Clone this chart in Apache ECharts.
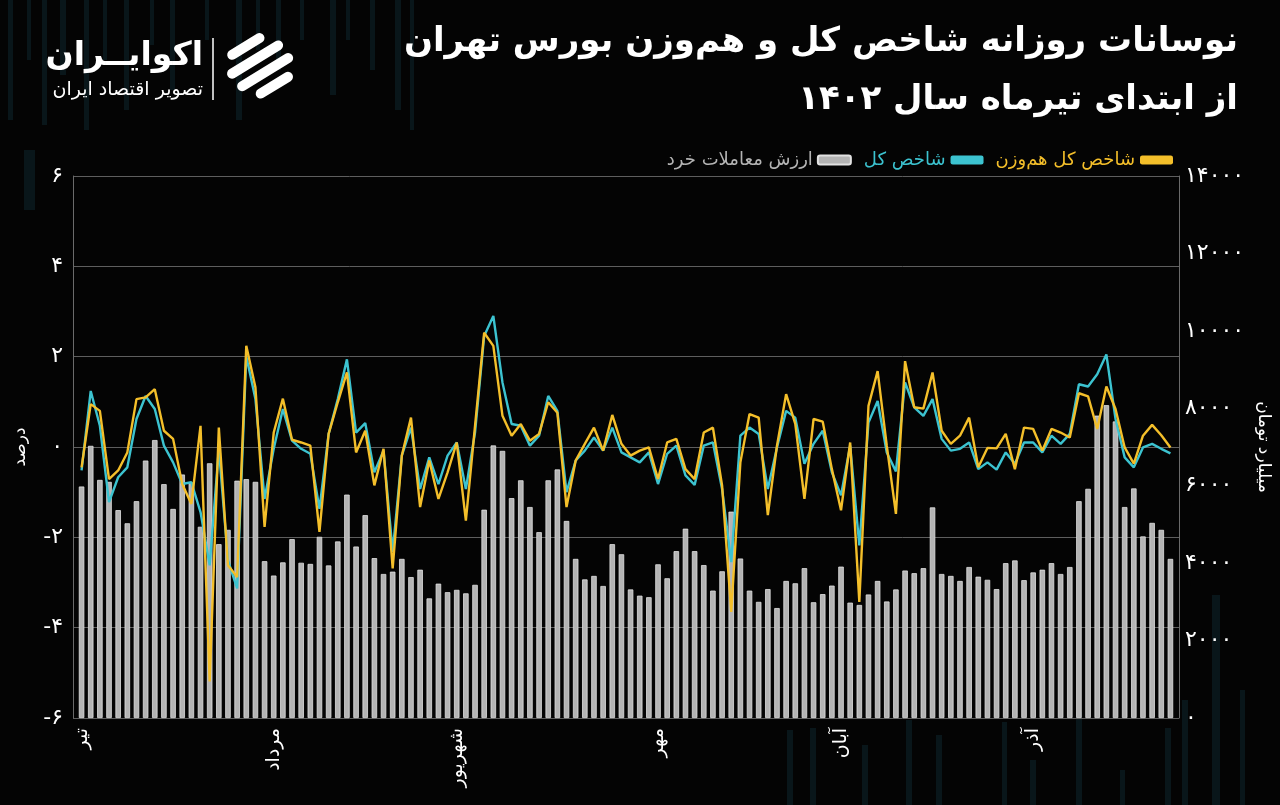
<!DOCTYPE html>
<html><head><meta charset="utf-8">
<script src="https://cdn.jsdelivr.net/npm/echarts@6/dist/echarts.min.js"></script>
<style>html,body{margin:0;padding:0;background:#040404;}#c{width:1280px;height:805px;}</style>
</head><body><div id="c"></div>
<script>
const months = ['تیر','مرداد','شهریور','مهر','آبان','آذر'];
const monthStart = [0,21,41,63,83,104];
const dayCount = 120;

const retailValue = [
5980,7030,6150,6100,5370,5030,5600,6650,7180,6040,
5400,6290,6080,4940,6580,4490,4860,6130,6170,6100,
4050,3680,4020,4620,4010,3980,4680,3940,4560,5770,
4430,5240,4130,3720,3780,4110,3640,3830,3090,3470,
3250,3310,3220,3440,5380,7040,6900,5680,6140,5450,
4800,6140,6420,5090,4110,3580,3670,3410,4490,4230,
3320,3160,3120,3970,3610,4310,4890,4310,3950,3290,
3790,5330,4120,3290,3000,3330,2840,3540,3480,3870,
2990,3200,3420,3910,2980,2920,3190,3540,3010,3320,
3810,3740,3870,5440,3720,3670,3540,3900,3650,3570,
3330,4000,4070,3560,3760,3830,4000,3720,3900,5600,
5920,7810,8080,7660,5450,5930,4690,5040,4860,4110
];

const totalIndex = [
-0.52,1.24,0.47,-1.22,-0.67,-0.45,0.62,1.13,0.84,0.03,
-0.34,-0.82,-0.78,-1.44,-2.62,-0.04,-2.51,-3.13,2.01,1.06,
-1.15,-0.04,0.84,0.14,-0.04,-0.15,-1.37,0.29,1.06,1.94,
0.32,0.53,-0.56,-0.08,-2.32,-0.19,0.43,-0.93,-0.23,-0.82,
-0.19,0.10,-0.93,0.32,2.46,2.90,1.43,0.51,0.47,0.03,
0.25,1.13,0.80,-1.00,-0.30,-0.08,0.21,-0.08,0.43,-0.12,
-0.23,-0.34,-0.12,-0.82,-0.15,0.03,-0.63,-0.84,0.03,0.10,
-0.93,-2.55,0.25,0.43,0.29,-0.93,-0.01,0.80,0.65,-0.37,
0.07,0.36,-0.56,-1.07,0.03,-2.18,0.54,1.02,-0.12,-0.54,
1.43,0.88,0.69,1.06,0.18,-0.08,-0.04,0.10,-0.49,-0.34,
-0.50,-0.12,-0.37,0.10,0.10,-0.12,0.25,0.07,0.29,1.39,
1.34,1.61,2.05,0.62,-0.23,-0.45,-0.01,0.07,-0.04,-0.14
];

const equalWeightIndex = [
-0.45,0.95,0.80,-0.71,-0.52,-0.12,1.06,1.10,1.28,0.36,
0.18,-0.82,-1.26,0.47,-5.19,0.43,-2.62,-2.88,2.24,1.32,
-1.77,0.32,1.07,0.16,0.10,0.03,-1.88,0.29,0.99,1.65,
-0.12,0.36,-0.85,-0.04,-2.69,-0.19,0.65,-1.33,-0.30,-1.15,
-0.56,0.10,-1.63,0.47,2.53,2.24,0.69,0.25,0.51,0.14,
0.29,0.99,0.76,-1.33,-0.30,0.07,0.43,-0.08,0.71,0.07,
-0.19,-0.08,-0.01,-0.71,0.10,0.18,-0.49,-0.71,0.32,0.43,
-0.85,-3.65,-0.34,0.73,0.65,-1.51,0.03,1.17,0.51,-1.15,
0.62,0.56,-0.49,-1.40,0.10,-3.43,0.91,1.68,0.03,-1.48,
1.90,0.88,0.85,1.65,0.36,0.07,0.25,0.65,-0.45,-0.02,
-0.03,0.29,-0.49,0.43,0.40,-0.08,0.40,0.32,0.21,1.19,
1.12,0.40,1.34,0.84,-0.01,-0.37,0.25,0.49,0.26,-0.01
];

const seriesNames = ['ارزش معاملات خرد','شاخص کل','شاخص کل هم\u200cوزن'];
const titleLines = ['نوسانات روزانه شاخص کل و هم\u200cوزن بورس تهران','از ابتدای تیرماه سال ۱۴۰۲'];
const leftAxisName = 'درصد';
const rightAxisName = 'میلیارد تومان';

// build day categories from month starts
const categories = [];
for (let i = 0; i < dayCount; i++) {
  let m = 0;
  for (let k = 0; k < monthStart.length; k++) if (i >= monthStart[k]) m = k;
  categories.push(months[m] + ' ' + (i - monthStart[m] + 1));
}
const fa = v => String(v).replace(/\d/g, d => '۰۱۲۳۴۵۶۷۸۹'[d]);

const FONT = 'DejaVu Sans';
const YELLOW = '#f4bf2a', CYAN = '#3cc3d0', GRAY = '#b4b4b4';

// decorative faint background stripes
const deco = [];
const topStripes = [[8,5,120],[27,4,60],[42,5,125],[60,6,75],[84,5,130],[103,4,60],[124,5,110],[150,4,45],[170,5,90],[205,4,40],[236,6,120],[256,4,50],[276,5,70],[300,4,40],[330,6,95],[346,4,40],[370,5,70],[395,6,110],[410,4,130]];
topStripes.forEach(s => deco.push({type:'rect', silent:true, z:-10, shape:{x:s[0], y:0, width:s[1], height:s[2]}, style:{fill:'rgba(18,52,64,0.38)'}}));
deco.push({type:'rect', silent:true, z:-10, shape:{x:24, y:150, width:11, height:60}, style:{fill:'rgba(18,52,64,0.38)'}});
const botStripes = [[787,6,730],[810,6,728],[862,6,745],[906,6,720],[936,6,735],[1002,5,722],[1030,6,760],[1076,6,712],[1120,5,770],[1165,6,728],[1182,6,700],[1212,8,595],[1240,5,690]];
botStripes.forEach(s => deco.push({type:'rect', silent:true, z:-10, shape:{x:s[0], y:s[2], width:s[1], height:805-s[2]}, style:{fill:'rgba(18,52,64,0.38)'}}));

const logo = [
  {type:'text', x:203, y:56, style:{text:'اکوایــران', fill:'#fff', font:'bold 33px "'+FONT+'"', textAlign:'right', textVerticalAlign:'middle'}},
  {type:'text', x:203, y:90, style:{text:'تصویر اقتصاد ایران', fill:'#fff', font:'19px "'+FONT+'"', textAlign:'right', textVerticalAlign:'middle'}},
  {type:'line', shape:{x1:213, y1:38, x2:213, y2:100}, style:{stroke:'#fff', lineWidth:1.5}},
  {type:'group', x:262, y:67, rotation:0.55, children:[
    {type:'rect', shape:{x:-24, y:-31, width:42, height:10, r:5}, style:{fill:'#fff'}},
    {type:'rect', shape:{x:-34, y:-15, width:64, height:10, r:5}, style:{fill:'#fff'}},
    {type:'rect', shape:{x:-32, y:1, width:64, height:10, r:5}, style:{fill:'#fff'}},
    {type:'rect', shape:{x:-20, y:17, width:42, height:10, r:5}, style:{fill:'#fff'}}
  ]}
];

const titleGfx = titleLines.map((t, i) => ({type:'text', x:1238, y:42 + i*58, style:{text:t, fill:'#fff', font:'bold 34px "'+FONT+'"', textAlign:'right', textVerticalAlign:'middle'}}));

const chart = echarts.init(document.getElementById('c'), null, {renderer:'canvas'});
chart.setOption({
  backgroundColor:'#040404',
  animation:false,
  textStyle:{fontFamily:FONT},
  graphic: deco.concat(logo, titleGfx),
  legend:{
    right:102, top:146, itemWidth:33, itemHeight:9, itemGap:12, align:'right', icon:'roundRect',
    data:[
      {name:seriesNames[0], textStyle:{color:GRAY}},
      {name:seriesNames[1], textStyle:{color:CYAN}},
      {name:seriesNames[2], textStyle:{color:YELLOW}}
    ],
    textStyle:{fontSize:18, fontFamily:FONT}
  },
  grid:[
    {left:73, right:98, top:176, bottom:87},
    {left:77, right:105, top:176, bottom:87}
  ],
  xAxis:[
    {gridIndex:0, type:'value', show:false, min:0, max:1},
    {gridIndex:1, type:'category', data:categories, boundaryGap:true,
     axisLine:{show:false}, axisTick:{show:false},
     axisLabel:{color:'#fff', fontSize:19, fontFamily:FONT, rotate:90, margin:10,
       interval:(idx) => monthStart.indexOf(idx) >= 0,
       formatter:(val, idx) => { const k = monthStart.indexOf(idx); return k >= 0 ? months[k] : ''; }}}
  ],
  yAxis:[
    {gridIndex:0, type:'value', min:-6, max:6, interval:2, position:'left',
     name:leftAxisName, nameLocation:'middle', nameGap:44, nameRotate:90,
     nameTextStyle:{color:'#fff', fontSize:17, fontFamily:FONT},
     axisLine:{show:true, lineStyle:{color:'#6a6a6a', width:1}}, axisTick:{show:false},
     axisLabel:{color:'#fff', fontSize:22, fontFamily:FONT, margin:10, formatter:v => fa(v)},
     splitLine:{show:true, lineStyle:{color:'#5e5e5e', width:1}}},
    {gridIndex:0, type:'value', min:0, max:14000, interval:2000, position:'right',
     name:rightAxisName, nameLocation:'middle', nameGap:72, nameRotate:-90,
     nameTextStyle:{color:'#fff', fontSize:17, fontFamily:FONT},
     axisLine:{show:true, lineStyle:{color:'#6a6a6a', width:1}}, axisTick:{show:false},
     axisLabel:{color:'#fff', fontSize:22, fontFamily:FONT, margin:6, formatter:v => fa(v)},
     splitLine:{show:false}},
    {gridIndex:1, type:'value', min:-6, max:6, show:false, splitLine:{show:false}},
    {gridIndex:1, type:'value', min:0, max:14000, show:false, splitLine:{show:false}}
  ],
  series:[
    {name:seriesNames[0], type:'bar', xAxisIndex:1, yAxisIndex:3, data:retailValue, barWidth:5.5,
     itemStyle:{color:GRAY, borderColor:'#e2e2e2', borderWidth:0.8}},
    {name:seriesNames[1], type:'line', xAxisIndex:1, yAxisIndex:2, data:totalIndex, showSymbol:false, symbol:'none',
     lineStyle:{color:CYAN, width:2.4}, itemStyle:{color:CYAN}},
    {name:seriesNames[2], type:'line', xAxisIndex:1, yAxisIndex:2, data:equalWeightIndex, showSymbol:false, symbol:'none',
     lineStyle:{color:YELLOW, width:2.4}, itemStyle:{color:YELLOW}}
  ]
});
</script></body></html>
